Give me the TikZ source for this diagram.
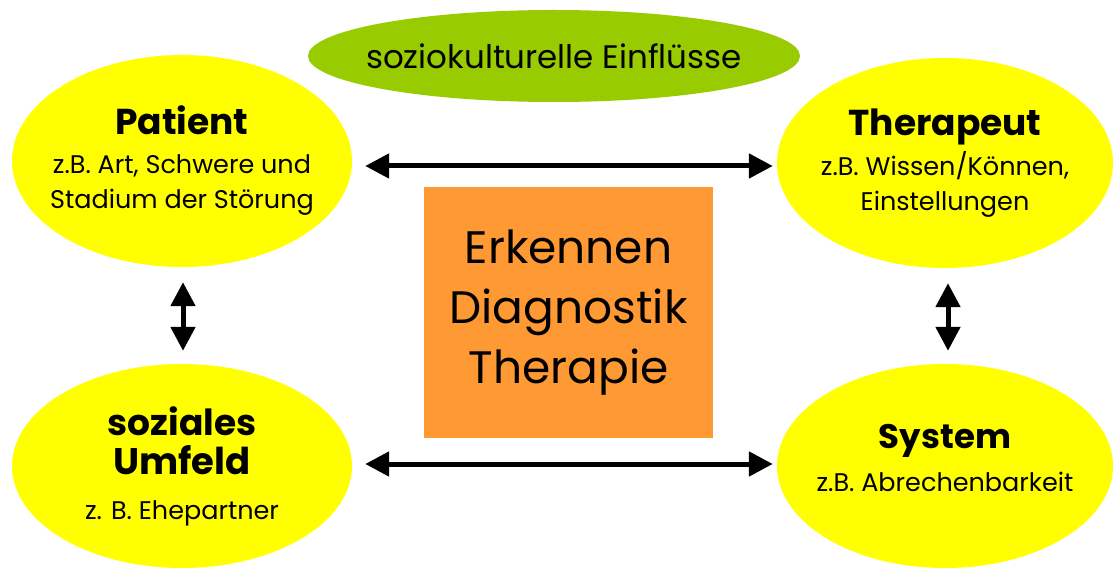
\documentclass[tikz,border=0pt]{standalone}
\usepackage{fontspec}
\setmainfont{Poppins}
\usetikzlibrary{shapes.geometric,arrows.meta}
\definecolor{ellY}{HTML}{FFFF00}
\definecolor{ellG}{HTML}{99CC00}
\definecolor{boxO}{HTML}{FF9933}
\tikzset{
  yel/.style={ellipse, fill=ellY, inner sep=0pt},
  yeltxt/.style={inner sep=0pt, align=center,
    font=\fontsize{25.5}{35}\selectfont},
  grn/.style={ellipse, fill=ellG, inner sep=0pt},
  grntxt/.style={inner sep=0pt, font=\fontsize{32.5}{36}\selectfont},
  cbox/.style={rectangle, fill=boxO, inner sep=0pt, align=center,
    font=\fontsize{45.5}{60}\selectfont},
  dbl/.style={line width=5pt,
    {Triangle[length=24pt,width=24pt]}-{Triangle[length=24pt,width=24pt]}}
}
\newcommand{\ttlfont}{\fontsize{36}{40}\selectfont\bfseries}
\begin{document}
\begin{tikzpicture}[x=1pt,y=-1pt]
\useasboundingbox[fill=white] (0,0) rectangle (1114,569);
\node[grn, minimum width=492pt, minimum height=92pt] (soz) at (554,56) {};
\node[grntxt] (sozT) at (soz.center) {soziokulturelle Einflüsse};
\node[yel, minimum width=340pt, minimum height=212pt] (pat) at (182,161) {};
\node[yeltxt] (patT) at (pat.center)
  {{\ttlfont Patient}\\[4pt] z.B. Art, Schwere und\\ Stadium der Störung};
\node[yel, minimum width=336pt, minimum height=210pt] (ther) at (945,163) {};
\node[yeltxt] (therT) at (ther.center)
  {{\ttlfont Therapeut}\\[5pt] z.B. Wissen/Können,\\ Einstellungen};
\node[yel, minimum width=340pt, minimum height=204pt] (umf) at (182,466) {};
\node[yeltxt] (umfT) at (umf.center)
  {{\fontsize{36}{40}\selectfont\bfseries soziales}\\[4pt]{\fontsize{37}{40}\selectfont\bfseries Umfeld}\\[10pt] z. B. Ehepartner};
\node[yel, minimum width=336pt, minimum height=204pt] (sys) at (945,466) {};
\node[yeltxt] (sysT) at ([yshift=8pt]sys.center)
  {{\fontsize{34}{40}\selectfont\bfseries System}\\[8pt] z.B. Abrechenbarkeit};
\node[cbox, minimum width=289pt, minimum height=251pt] (ctr) at (568.5,312.5)
  {Erkennen\\ Diagnostik\\ Therapie};
\draw[dbl, shorten <=13pt, shorten >=4pt] ([yshift=-5pt]pat.east) -- ([yshift=-3pt]ther.west);
\draw[dbl, shorten <=13pt, shorten >=4pt] ([yshift=2pt]umf.east) -- ([yshift=2pt]sys.west);
\draw[dbl, shorten <=15pt, shorten >=13pt] ([xshift=1pt]pat.south) -- ([xshift=1pt]umf.north);
\draw[dbl, shorten <=15pt, shorten >=13pt] ([xshift=3pt]ther.south) -- ([xshift=3pt]sys.north);
\end{tikzpicture}
\end{document}
